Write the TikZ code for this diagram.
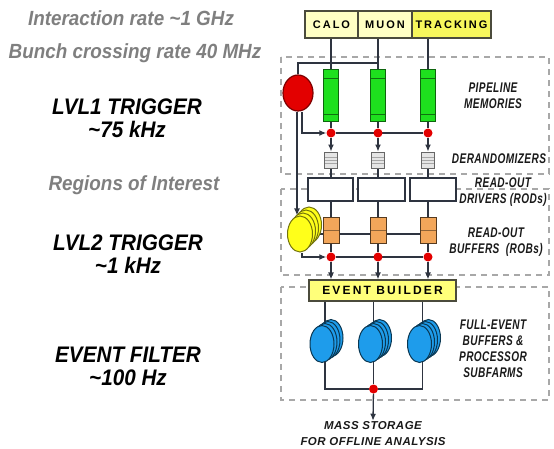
\documentclass[tikz,border=0pt]{standalone}
\usepackage{fontspec}
\setmainfont{Liberation Sans}
\newfontfamily\sidefont[FakeStretch=0.92]{Liberation Sans}
\newfontfamily\blockfont[FakeStretch=0.72,LetterSpace=3]{Liberation Sans}
\newfontfamily\tagfont[LetterSpace=18]{Liberation Sans}
\newfontfamily\sinkfont[LetterSpace=4]{Liberation Sans}
\usepackage{tikz}
\usetikzlibrary{shapes.geometric,arrows.meta,positioning,calc,backgrounds}
\definecolor{wireslate}{HTML}{2E3440}
\definecolor{rategray}{HTML}{7F7F7F}
\definecolor{regiongray}{HTML}{A8A8A8}
\definecolor{detpale}{HTML}{FFFFC4}
\definecolor{dettrack}{HTML}{F7F75C}
\definecolor{detline}{HTML}{4B4B3C}
\definecolor{pipegreen}{HTML}{1EE01E}
\definecolor{trigred}{HTML}{E30000}
\definecolor{robamber}{HTML}{F2A65A}
\definecolor{roiyellow}{HTML}{FFFF1A}
\definecolor{farmblue}{HTML}{1E9CEB}
\definecolor{ebyellow}{HTML}{FFFF7A}
\tikzset{
  detector/.style={rectangle,minimum height=27pt,inner sep=0pt,outer sep=0pt,
    draw=detline,fill=#1,line width=1.2pt,font=\tagfont\fontsize{11}{13}\selectfont\bfseries},
  detector/.default={detpale},
  pipemem/.style={rectangle,minimum width=15pt,minimum height=52pt,inner sep=0pt,
    draw=pipegreen!45!black,fill=pipegreen,line width=1pt,
    path picture={\draw[pipegreen!50!black,line width=0.7pt]
      ([yshift=-8pt]path picture bounding box.north west) -- ([yshift=-8pt]path picture bounding box.north east)
      ([yshift=8pt]path picture bounding box.south west) -- ([yshift=8pt]path picture bounding box.south east);}},
  derand/.style={rectangle,minimum width=13pt,minimum height=16pt,inner sep=0pt,
    draw=gray!80!black,fill=gray!20,line width=0.9pt,
    path picture={\draw[gray!70,line width=0.6pt]
      ([yshift=-5pt]path picture bounding box.north west) -- ([yshift=-5pt]path picture bounding box.north east)
      ([yshift=-8pt]path picture bounding box.north west) -- ([yshift=-8pt]path picture bounding box.north east)
      ([yshift=-11pt]path picture bounding box.north west) -- ([yshift=-11pt]path picture bounding box.north east);}},
  rodbox/.style={rectangle,minimum height=23pt,inner sep=0pt,draw=wireslate,fill=white,line width=1.2pt},
  robbox/.style={rectangle,minimum width=16pt,minimum height=25pt,inner sep=0pt,
    draw=robamber!35!black,fill=robamber,line width=1pt,
    path picture={\draw[robamber!60!black,line width=0.6pt]
      (path picture bounding box.west) -- (path picture bounding box.east);}},
  tdot/.style={circle,fill=trigred,minimum size=9pt,inner sep=0pt},
  lvlone/.style={ellipse,minimum width=30pt,minimum height=36pt,inner sep=0pt,
    draw=trigred!55!black,fill=trigred,line width=1.2pt},
  roidisc/.style={ellipse,minimum width=25pt,minimum height=36pt,inner sep=0pt,
    draw=roiyellow!45!black,fill=roiyellow,line width=1pt},
  farmdisc/.style={ellipse,minimum width=24pt,minimum height=37pt,inner sep=0pt,
    draw=farmblue!35!black,fill=farmblue,line width=1pt},
  evbuild/.style={rectangle,minimum width=147pt,minimum height=21pt,inner sep=0pt,
    draw=detline,fill=ebyellow,line width=1.2pt,font=\tagfont\fontsize{12}{14}\selectfont\bfseries},
  region/.style={draw=regiongray,line width=1.4pt,dash pattern=on 6pt off 5pt},
  wire/.style={draw=wireslate,line width=1.3pt},
  flow/.style={wire,-{Latex[length=7pt,width=6pt]}},
  ratelabel/.style={text=rategray,font=\sidefont\fontsize{20.5}{23}\selectfont\bfseries\itshape},
  triglabel/.style={text=black,align=center,font=\sidefont\fontsize{22.5}{23}\selectfont\bfseries\itshape},
  blocklabel/.style={text=black!90,align=center,font=\blockfont\fontsize{14}{16}\selectfont\bfseries\itshape},
  sinklabel/.style={text=black!90,align=center,inner sep=1pt,font=\sinkfont\fontsize{11.5}{16}\selectfont\bfseries\itshape},
}
\begin{document}
\begin{tikzpicture}[x=1pt,y=-1pt]
  \useasboundingbox (0,0) rectangle (554,449);
  % rates and trigger levels
  \node[ratelabel] (irate) at (131,18) {Interaction rate \textasciitilde1 GHz};
  \node[ratelabel] (bxrate) at (135,53) {Bunch crossing rate 40 MHz};
  \node[triglabel] (lvl1t) at (127,118.5) {LVL1 TRIGGER\\\textasciitilde75 kHz};
  \node[ratelabel] (roit) at (134,185) {Regions of Interest};
  \node[triglabel] (lvl2t) at (128,254) {LVL2 TRIGGER\\\textasciitilde1 kHz};
  \node[triglabel] (eft) at (128,366) {EVENT FILTER\\\textasciitilde100 Hz};
  % detectors
  \node[detector,minimum width=53pt] (calo) at (331.5,24.5) {CALO};
  \node[detector,minimum width=54pt,right=0pt of calo] (muon) {MUON};
  \node[detector=dettrack,minimum width=79pt,right=0pt of muon] (track) {TRACKING};
  \coordinate (muontap) at (378,63);
  % level 1
  \node[lvlone] (l1) at (298,93) {};
  \node[pipemem] (pipe1) at (331,96) {};
  \node[pipemem] (pipe2) at (378,96) {};
  \node[pipemem] (pipe3) at (428,96) {};
  \node[tdot] (dl11) at (331,133) {};
  \node[tdot] (dl12) at (378,133) {};
  \node[tdot] (dl13) at (428,133) {};
  \node[derand] (der1) at (331,160) {};
  \node[derand] (der2) at (378,160) {};
  \node[derand] (der3) at (428,160) {};
  \node[rodbox,minimum width=45pt] (rod1) at (330.5,189.5) {};
  \node[rodbox,minimum width=47pt] (rod2) at (381.5,189.5) {};
  \node[rodbox,minimum width=46pt] (rod3) at (433,189.5) {};
  % level 2
  \node[roidisc] (l2c) at (309,225) {};
  \node[roidisc] (l2b) at (306,228) {};
  \node[roidisc] (l2a) at (303,231) {};
  \node[roidisc] (l2) at (300,234) {};
  \node[robbox] (rob1) at (331,230.5) {};
  \node[robbox] (rob2) at (378,230.5) {};
  \node[robbox] (rob3) at (428,230.5) {};
  \node[tdot] (dl21) at (331,257) {};
  \node[tdot] (dl22) at (378,257) {};
  \node[tdot] (dl23) at (428,257) {};
  \node[evbuild] (eb) at (382.5,290.5) {EVENT BUILDER};
  % event filter
  \node[farmdisc] (ef1c) at (331,338) {};
  \node[farmdisc] (ef1b) at (328,340) {};
  \node[farmdisc] (ef1a) at (325,342) {};
  \node[farmdisc] (ef1) at (322,344) {};
  \node[farmdisc] (ef2c) at (379.5,338) {};
  \node[farmdisc] (ef2b) at (376.5,340) {};
  \node[farmdisc] (ef2a) at (373.5,342) {};
  \node[farmdisc] (ef2) at (370.5,344) {};
  \node[farmdisc] (ef3c) at (428.5,338) {};
  \node[farmdisc] (ef3b) at (425.5,340) {};
  \node[farmdisc] (ef3a) at (422.5,342) {};
  \node[farmdisc] (ef3) at (419.5,344) {};
  \node[tdot] (dl3) at (373.5,389) {};
  \node[sinklabel] (sink) at (373,434) {MASS STORAGE\\FOR OFFLINE ANALYSIS};
  % block names
  \node[blocklabel] (pipet) at (493,95.5) {PIPELINE\\MEMORIES};
  \node[blocklabel] (dert) at (499,159) {DERANDOMIZERS};
  \node[blocklabel] (rodt) at (503,192) {READ-OUT\\DRIVERS (RODs)};
  \node[blocklabel] (robt) at (496,242.5) {READ-OUT\\BUFFERS\ \ (ROBs)};
  \node[blocklabel] (farmt) at (493,348.5) {FULL-EVENT\\BUFFERS \&\\PROCESSOR\\SUBFARMS};
  \begin{scope}[on background layer]
    \draw[region] (281,57) rectangle (549,174);
    \draw[region] (281,189) rectangle (549,275);
    \draw[region] (281,287) rectangle (549,400);
    \draw[wire] (calo.south -| pipe1) -- (pipe1.north);
    \draw[wire] (muon.south -| pipe2) -- (pipe2.north);
    \draw[wire] (track.south -| pipe3) -- (pipe3.north);
    \draw[wire] (muontap) -| (l1.north);
    \draw[wire] (pipe1.south) -- (dl11);
    \draw[wire] (pipe2.south) -- (dl12);
    \draw[wire] (pipe3.south) -- (dl13);
    \draw[flow] ([xshift=4pt]l1.south) |- (dl11.west);
    \draw[wire] (dl11) -- (dl13);
    \draw[flow] (dl11) -- (der1.north);
    \draw[flow] (dl12) -- (der2.north);
    \draw[flow] (dl13) -- (der3.north);
    \draw[wire] (der1.south) -- (der1.south |- rod1.north);
    \draw[wire] (der2.south) -- (der2.south |- rod2.north);
    \draw[wire] (der3.south) -- (der3.south |- rod3.north);
    \draw[wire] (rod1.south -| rob1) -- (rob1.north);
    \draw[wire] (rod2.south -| rob2) -- (rob2.north);
    \draw[wire] (rod3.south -| rob3) -- (rob3.north);
    \draw[flow] ([xshift=-1pt]l1.south) -- ([xshift=-1pt]l1.south |- l2.north);
    \draw[wire] (l2.east) -- (l2.east -| rob3);
    \draw[wire] (rob1.south) -- (dl21);
    \draw[wire] (rob2.south) -- (dl22);
    \draw[wire] (rob3.south) -- (dl23);
    \draw[flow] ([xshift=2pt]l2.south) |- (dl21.west);
    \draw[wire] (dl21) -- (dl23);
    \draw[flow] (dl21) -- (dl21 |- eb.north);
    \draw[flow] (dl22) -- (dl22 |- eb.north);
    \draw[flow] (dl23) -- (dl23 |- eb.north);
    \draw[wire] (eb.south -| ef1a) |- (dl3);
    \draw[wire] (eb.south -| ef3a) |- (dl3);
    \draw[wire] (eb.south -| ef2a) -- (dl3);
    \draw[flow] (dl3) -- (sink.north);
  \end{scope}
\end{tikzpicture}
\end{document}
